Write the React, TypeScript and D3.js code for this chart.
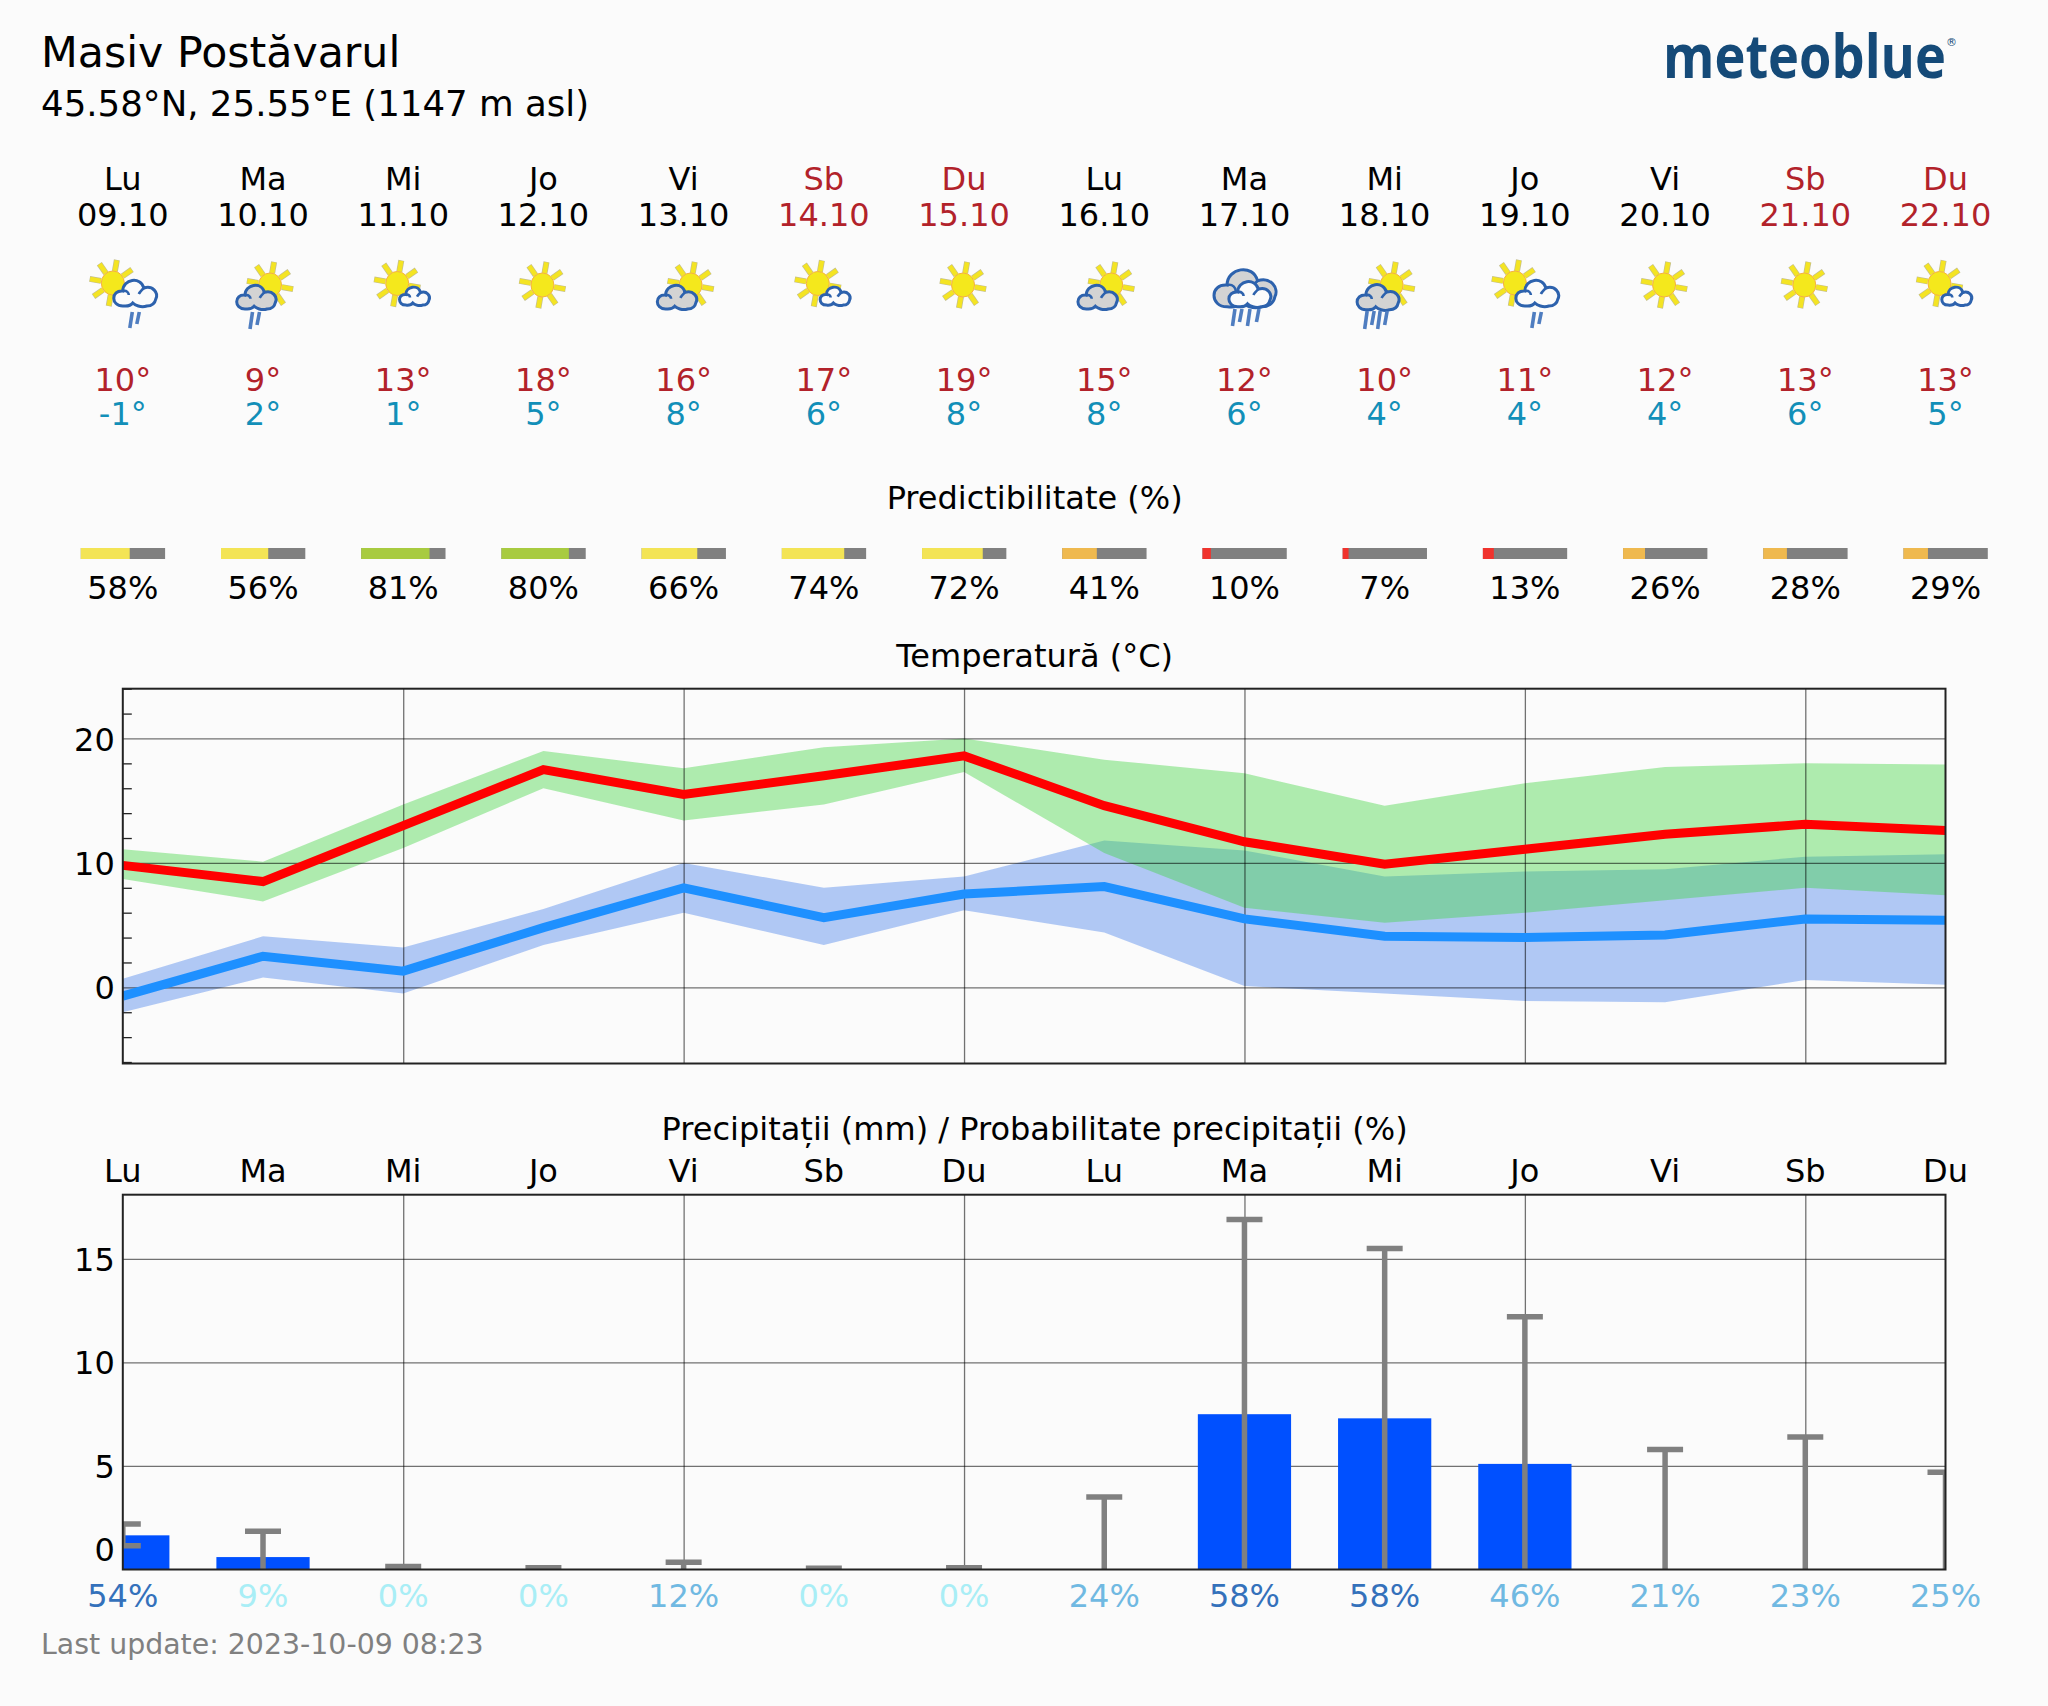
import { area, axisBottom, axisLeft, curveLinear, line, scaleBand, scaleLinear, select } from 'd3';
import type { ScaleLinear } from 'd3';
import { useEffect, useRef } from 'react';

const dayNames = ['Lu', 'Ma', 'Mi', 'Jo', 'Vi', 'Sb', 'Du', 'Lu', 'Ma', 'Mi', 'Jo', 'Vi', 'Sb', 'Du'];
const dates = ['09.10', '10.10', '11.10', '12.10', '13.10', '14.10', '15.10', '16.10', '17.10', '18.10', '19.10', '20.10', '21.10', '22.10'];
const icons = ['sunRain', 'grayRain', 'sunSmall', 'sun', 'gray', 'sunSmall', 'sun', 'gray', 'storm', 'grayHeavy', 'sunRain', 'sun', 'sun', 'sunSmall'];
const dailyMax = [10, 9, 13, 18, 16, 17, 19, 15, 12, 10, 11, 12, 13, 13];
const dailyMin = [-1, 2, 1, 5, 8, 6, 8, 8, 6, 4, 4, 4, 6, 5];
const predictability = [58, 56, 81, 80, 66, 74, 72, 41, 10, 7, 13, 26, 28, 29];

const tempMax = [9.8, 8.5, 13, 17.5, 15.5, 17, 18.6, 14.6, 11.7, 9.9, 11.1, 12.3, 13.1, 12.6];
const tempMaxHigh = [11.1, 10.1, 14.7, 19, 17.6, 19.3, 20, 18.3, 17.2, 14.6, 16.4, 17.7, 18, 17.9];
const tempMaxLow = [8.7, 6.9, 11.2, 16, 13.4, 14.7, 17.3, 10.8, 6.4, 5.2, 6, 7, 8, 7.4];
const tempMin = [-0.7, 2.5, 1.3, 4.8, 8, 5.6, 7.5, 8.1, 5.5, 4.1, 4, 4.2, 5.5, 5.4];
const tempMinHigh = [0.7, 4.1, 3.2, 6.3, 10, 8, 8.9, 11.8, 11, 8.9, 9.3, 9.5, 10.5, 10.7];
const tempMinLow = [-2, 0.8, -0.5, 3.4, 6, 3.4, 6.2, 4.4, 0.1, -0.5, -1.1, -1.2, 0.6, 0.2];

const precip = [1.65, 0.6, 0, 0, 0, 0, 0, 0, 7.5, 7.3, 5.1, 0, 0, 0];
const precipHigh = [2.2, 1.85, 0.15, 0.08, 0.35, 0.06, 0.08, 3.5, 16.9, 15.5, 12.2, 5.8, 6.4, 4.7];
const precipLow = [1.15, 0, 0, 0, 0, 0, 0, 0, 0, 0, 0, 0, 0, 0];
const precipProb = [54, 9, 0, 0, 12, 0, 0, 24, 58, 58, 46, 21, 23, 25];

const tempTicks = [0, 10, 20];
const tempMinorTicks = [-6, -4, -2, 2, 4, 6, 8, 12, 14, 16, 18, 22, 24];
const precipTicks = [0, 5, 10, 15];
const gridDays = [2, 4, 6, 8, 10, 12];

const FONT = '"DejaVu Sans", sans-serif';
const BG = '#fbfbfb';
const left = 122.8;
const right = 1945.5;
const tempTop = 688.7;
const tempBottom = 1063.5;
const precipTop = 1194.7;
const precipBottom = 1569.5;

const dayIndex = dayNames.map((_, i) => i);
const x = scaleLinear().domain([0, 13]).range([left, right]);
const yTemp = scaleLinear().domain([-6.12, 24]).range([tempBottom, tempTop]);
const yPrecip = scaleLinear().domain([0, 18.1]).range([precipBottom, precipTop]);
const barBand = scaleBand<number>().domain(dayIndex).range([left - 70.1, right + 70.1]).paddingInner(0.335).paddingOuter(0.1675);
const predScale = scaleLinear().domain([0, 100]).range([0, 84.3]);

const predColor = (v: number) => (v >= 80 ? '#a8cb40' : v >= 50 ? '#f3e455' : v >= 20 ? '#efb94f' : '#f0332d');
const probColor = (v: number) => (v >= 50 ? '#3471bb' : v >= 10 ? '#70b9e2' : '#a9eef6');

const CLOUD =
  'M-12 13 C-24 13 -24 -3 -12 -2 C-12 -14 6 -17 9 -5 C18 -8 24 0 21 6 C20 11 16 13 12 13 C6 15 0 12 -2 10 C-5 14 -9 13 -12 13 Z';
const CLOUD_CURL = 'M-12 -2 C-8 -3 -6 0 -6 2 M9 -5 C7 -3 5 -1 4 1';
const rayAngles = [-125, -80, -35, 10, 55, 100, 145, 190];
const rainLine = line<[number, number]>();

const Sun = ({ cx, cy }: { cx: number; cy: number }) => (
  <g transform={`translate(${cx},${cy})`}>
    {rayAngles.map((a) => {
      const r = (a * Math.PI) / 180;
      const p = (d: number): [number, number] => [Math.cos(r) * d, Math.sin(r) * d];
      return (
        <g key={a}>
          <path d={rainLine([p(12), p(23.5)]) ?? ''} stroke="#c4bf8e" strokeWidth={6} />
          <path d={rainLine([p(12), p(23)]) ?? ''} stroke="#f4e423" strokeWidth={4.6} />
        </g>
      );
    })}
    <ellipse rx={11.5} ry={12} fill="#f4e81c" stroke="#f5b041" strokeWidth={1} />
  </g>
);

const Cloud = ({ cx, cy, scale, fill }: { cx: number; cy: number; scale: number; fill: string }) => (
  <g transform={`translate(${cx},${cy}) scale(${scale})`}>
    <path d={CLOUD} fill={fill} stroke="#2d62ad" strokeWidth={3 / scale} />
    <path d={CLOUD_CURL} fill="none" stroke="#2d62ad" strokeWidth={2.6 / scale} />
  </g>
);

const Rain = ({ xs, y0, y1 }: { xs: number[]; y0: number; y1: number }) => (
  <>
    {xs.map((rx, i) => {
      const drop = i % 2 === 0 ? y1 : y1 - 4;
      return (
        <path key={rx} d={rainLine([[rx + 2.5, y0], [rx, drop]]) ?? ''} stroke="#4f7dc0" strokeWidth={3.6} />
      );
    })}
  </>
);

const WeatherIcon = ({ type, cx }: { type: string; cx: number }) => {
  if (type === 'sun') return <Sun cx={cx - 1} cy={285} />;
  if (type === 'sunRain') {
    return (
      <>
        <Sun cx={cx - 10} cy={283} />
        <Cloud cx={cx + 12} cy={293} scale={1} fill={BG} />
        <Rain xs={[cx + 7, cx + 14]} y0={312} y1={328} />
      </>
    );
  }
  if (type === 'sunSmall') {
    return (
      <>
        <Sun cx={cx - 6} cy={283.5} />
        <Cloud cx={cx + 11} cy={296} scale={0.7} fill={BG} />
      </>
    );
  }
  if (type === 'gray' || type === 'grayRain') {
    return (
      <>
        <Sun cx={cx + 7} cy={285} />
        <Cloud cx={cx - 7} cy={297} scale={0.92} fill="#d3d3d3" />
        {type === 'grayRain' && <Rain xs={[cx - 13, cx - 6]} y0={312} y1={329} />}
      </>
    );
  }
  if (type === 'grayHeavy') {
    return (
      <>
        <Sun cx={cx + 7} cy={285} />
        <Cloud cx={cx - 7} cy={297} scale={0.98} fill="#d3d3d3" />
        <Rain xs={[cx - 20, cx - 13, cx - 7, cx]} y0={311} y1={329} />
      </>
    );
  }
  return (
    <>
      <Cloud cx={cx} cy={288} scale={1.45} fill="#d3d3d3" />
      <Cloud cx={cx + 5} cy={294} scale={0.98} fill={BG} />
      <Rain xs={[cx - 12, cx - 5, cx + 3, cx + 12]} y0={309} y1={326} />
    </>
  );
};

interface LeftAxisProps {
  scale: ScaleLinear<number, number, never>;
  ticks: number[];
  minor?: number[];
  shiftZero?: boolean;
}

const LeftAxis = ({ scale, ticks, minor, shiftZero }: LeftAxisProps) => {
  const ref = useRef<SVGGElement>(null);

  useEffect(() => {
    if (!ref.current) return;
    const g = select(ref.current);
    g.selectAll('*').remove();
    const major = g.append('g').call(axisLeft(scale).tickValues(ticks).tickSize(0).tickPadding(8));
    major.select('.domain').remove();
    major
      .selectAll('text')
      .attr('font-family', FONT)
      .attr('font-size', 32)
      .attr('fill', '#000')
      .attr('dy', (d) => (shiftZero && d === 0 ? '-0.28em' : '0.36em'));
    if (minor) {
      const m = g.append('g').call(axisLeft(scale).tickValues(minor).tickSize(-9).tickFormat(() => ''));
      m.select('.domain').remove();
      m.selectAll('line').attr('stroke', '#222').attr('stroke-width', 1.3);
    }
  }, [scale, ticks, minor, shiftZero]);

  return <g ref={ref} transform={`translate(${left},0)`} />;
};

const Grid = ({ scale, ticks, top, bottom }: { scale: LeftAxisProps['scale']; ticks: number[]; top: number; bottom: number }) => {
  const ref = useRef<SVGGElement>(null);

  useEffect(() => {
    if (!ref.current) return;
    const g = select(ref.current);
    g.selectAll('*').remove();
    const h = g.append('g').attr('transform', `translate(${left},0)`)
      .call(axisLeft(scale).tickValues(ticks).tickSize(left - right).tickFormat(() => ''));
    h.select('.domain').remove();
    const v = g.append('g').attr('transform', `translate(0,${bottom})`)
      .call(axisBottom(x).tickValues(gridDays).tickSize(top - bottom).tickFormat(() => ''));
    v.select('.domain').remove();
    g.selectAll('line').attr('stroke', '#000').attr('stroke-opacity', 0.55).attr('stroke-width', 1.3);
  }, [scale, ticks, top, bottom]);

  return <g ref={ref} />;
};

const Frame = ({ top, bottom }: { top: number; bottom: number }) => (
  <rect x={left} y={top} width={right - left} height={bottom - top} fill="none" stroke="#222" strokeWidth={2} />
);

const Label = ({ x: lx, y, size = 32, fill = '#000', anchor = 'middle', children }: {
  x: number; y: number; size?: number; fill?: string; anchor?: 'middle' | 'start'; children: React.ReactNode;
}) => (
  <text x={lx} y={y} fontFamily={FONT} fontSize={size} fill={fill} textAnchor={anchor}>
    {children}
  </text>
);

const bandPath = (hi: number[], lo: number[]) =>
  area<number>()
    .x((i) => x(i))
    .y0((i) => yTemp(lo[i]))
    .y1((i) => yTemp(hi[i]))
    .curve(curveLinear)(dayIndex) ?? '';

const seriesPath = (vals: number[]) =>
  line<number>()
    .x((i) => x(i))
    .y((i) => yTemp(vals[i]))(dayIndex) ?? '';

const CENTER = (left + right) / 2 + 0.5;
const DARK_RED = '#b2222a';

export default function App() {
  return (
    <svg width={2048} height={1706} style={{ position: 'absolute', left: 0, top: 0 }}>
      <defs>
        <clipPath id="temp-clip">
          <rect x={left} y={tempTop} width={right - left} height={tempBottom - tempTop} />
        </clipPath>
        <clipPath id="precip-clip">
          <rect x={left} y={precipTop} width={right - left} height={precipBottom - precipTop} />
        </clipPath>
      </defs>
      <rect width={2048} height={1706} fill={BG} />

      <Label x={41} y={67} size={42.7} anchor="start">Masiv Postăvarul</Label>
      <Label x={41} y={116} size={35.6} anchor="start">45.58°N, 25.55°E (1147 m asl)</Label>

      <text x={1663} y={78} fontFamily="'Open Sans'" fontWeight={700} fontSize={61} fill="#154a78" textLength={283} lengthAdjust="spacingAndGlyphs">
        meteoblue
      </text>
      <text x={1951.5} y={46} fontFamily={FONT} fontSize={11} fill="#154a78" textAnchor="middle">®</text>

      {dayIndex.map((i) => {
        const weekend = dayNames[i] === 'Sb' || dayNames[i] === 'Du';
        const color = weekend ? DARK_RED : '#000';
        return (
          <g key={i}>
            <Label x={x(i)} y={189.5} fill={color}>{dayNames[i]}</Label>
            <Label x={x(i)} y={226} fill={color}>{dates[i]}</Label>
            <WeatherIcon type={icons[i]} cx={x(i)} />
            <Label x={x(i)} y={391} fill={DARK_RED}>{dailyMax[i]}°</Label>
            <Label x={x(i)} y={424.5} fill="#128fb8">{dailyMin[i]}°</Label>
            <rect x={x(i) - 42} y={548} width={84.3} height={11} fill="#808080" />
            <rect x={x(i) - 42} y={548} width={predScale(predictability[i])} height={11} fill={predColor(predictability[i])} />
            <Label x={x(i)} y={598.5}>{predictability[i]}%</Label>
            <Label x={x(i)} y={1181.5}>{dayNames[i]}</Label>
            <Label x={x(i)} y={1607} fill={probColor(precipProb[i])}>{precipProb[i]}%</Label>
          </g>
        );
      })}

      <Label x={CENTER} y={509}>Predictibilitate (%)</Label>
      <Label x={CENTER} y={667}>Temperatură (°C)</Label>
      <Label x={CENTER} y={1139.5}>Precipitații (mm) / Probabilitate precipitații (%)</Label>

      {/* temperature */}
      <g clipPath="url(#temp-clip)">
        <path d={bandPath(tempMinHigh, tempMinLow)} fill="rgb(64,124,234)" fillOpacity={0.4} />
        <path d={bandPath(tempMaxHigh, tempMaxLow)} fill="rgb(59,213,59)" fillOpacity={0.4} />
      </g>
      <Grid scale={yTemp} ticks={tempTicks} top={tempTop} bottom={tempBottom} />
      <g clipPath="url(#temp-clip)" fill="none" strokeWidth={9}>
        <path d={seriesPath(tempMin)} stroke="#1e90ff" />
        <path d={seriesPath(tempMax)} stroke="#ff0000" />
      </g>
      <LeftAxis scale={yTemp} ticks={tempTicks} minor={tempMinorTicks} />
      <Frame top={tempTop} bottom={tempBottom} />

      {/* precipitation */}
      <Grid scale={yPrecip} ticks={precipTicks.slice(1)} top={precipTop} bottom={precipBottom} />
      <g clipPath="url(#precip-clip)">
        {dayIndex.map((i) => (
          <rect
            key={i}
            x={barBand(i)}
            y={yPrecip(precip[i])}
            width={barBand.bandwidth()}
            height={precipBottom - yPrecip(precip[i])}
            fill="#0050ff"
          />
        ))}
        {dayIndex.map((i) => (
          <g key={i} stroke="#808080" strokeWidth={5.5}>
            <line x1={x(i)} x2={x(i)} y1={yPrecip(precipLow[i])} y2={yPrecip(precipHigh[i])} />
            <line x1={x(i) - 18} x2={x(i) + 18} y1={yPrecip(precipHigh[i])} y2={yPrecip(precipHigh[i])} />
            {precipLow[i] > 0 && (
              <line x1={x(i) - 18} x2={x(i) + 18} y1={yPrecip(precipLow[i])} y2={yPrecip(precipLow[i])} />
            )}
          </g>
        ))}
      </g>
      <LeftAxis scale={yPrecip} ticks={precipTicks} shiftZero />
      <Frame top={precipTop} bottom={precipBottom} />

      <Label x={41} y={1653.5} size={28.4} fill="#808080" anchor="start">Last update: 2023-10-09 08:23</Label>
    </svg>
  );
}
